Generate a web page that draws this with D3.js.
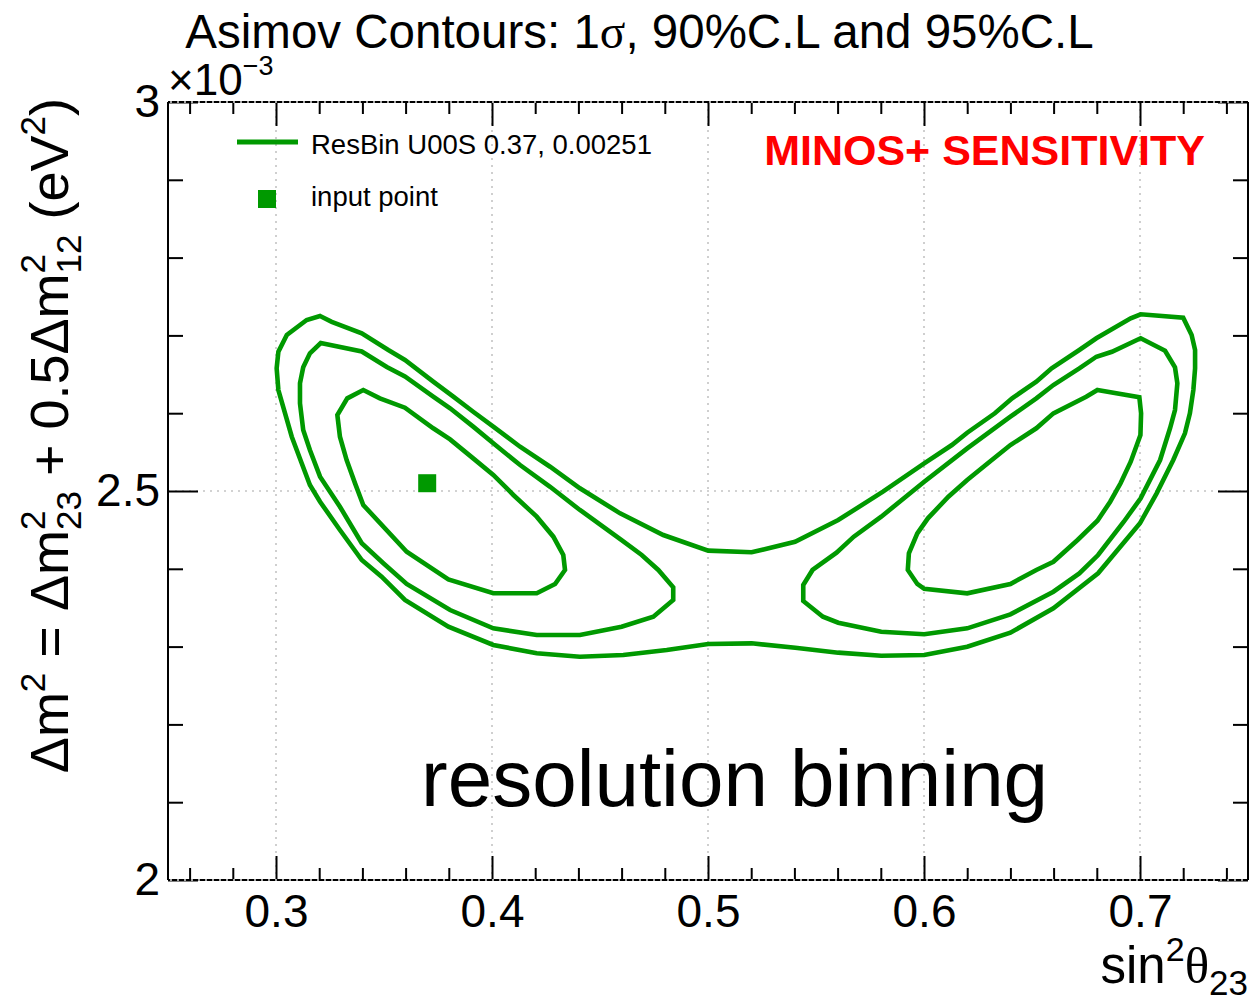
<!DOCTYPE html>
<html><head><meta charset="utf-8">
<script src="https://cdn.jsdelivr.net/npm/d3@7"></script>
<style>
body{margin:0;background:#fff}
svg{display:block}
text{font-family:"Liberation Sans",Arial,Helvetica,sans-serif;fill:#000}
</style>
</head><body>
<svg id="c" width="1253" height="1003"></svg>
<script>
// ---- data (x: sin^2 theta23, y: Delta m^2 in units of 1e-3 eV^2) ----
const xMajorTicks = [0.3, 0.4, 0.5, 0.6, 0.7];
const xTickLabels = ["0.3", "0.4", "0.5", "0.6", "0.7"];
const xMinorTicks = [0.26, 0.28, 0.32, 0.34, 0.36, 0.38, 0.42, 0.44, 0.46, 0.48,
                     0.52, 0.54, 0.56, 0.58, 0.62, 0.64, 0.66, 0.68, 0.72, 0.74];
const yMajorTicks = [2, 2.5, 3];
const yTickLabels = ["2", "2.5", "3"];
const yMinorTicks = [2.1, 2.2, 2.3, 2.4, 2.6, 2.7, 2.8, 2.9];
const xDomain = [0.25, 0.75];
const yDomain = [2, 3];
const inputPoint = [0.37, 2.51];

const contour95 = [
 [0.3204,2.7249],[0.3258,2.7175],[0.3397,2.7027],[0.3520,2.6812],[0.3597,2.6684],[0.3728,2.6405],
 [0.3821,2.6212],[0.3913,2.6019],[0.4006,2.5827],[0.4130,2.5569],[0.4269,2.5312],[0.4407,2.5035],
 [0.4593,2.4713],[0.4793,2.4434],[0.5001,2.4233],[0.5202,2.4212],[0.5403,2.4348],[0.5603,2.4627],
 [0.5810,2.4991],[0.6001,2.5355],[0.6129,2.5591],[0.6200,2.5749],[0.6328,2.5999],[0.6408,2.6192],
 [0.6520,2.6405],[0.6591,2.6577],[0.6719,2.6812],[0.6798,2.6963],[0.6957,2.7220],[0.7003,2.7271],
 [0.7200,2.7227],[0.7239,2.7005],[0.7255,2.6812],[0.7255,2.6577],[0.7247,2.6298],[0.7231,2.5998],
 [0.7208,2.5741],[0.7154,2.5398],[0.7077,2.4970],[0.7000,2.4585],[0.6806,2.3942],[0.6599,2.3492],
 [0.6400,2.3179],[0.6200,2.2999],[0.6001,2.2892],[0.5802,2.2883],[0.5603,2.2922],[0.5404,2.2986],
 [0.5202,2.3042],[0.5001,2.3033],[0.4809,2.2956],[0.4608,2.2892],[0.4407,2.2870],[0.4207,2.2914],
 [0.4006,2.3021],[0.3798,2.3256],[0.3597,2.3599],[0.3489,2.3899],[0.3397,2.4113],[0.3296,2.4499],
 [0.3204,2.4862],[0.3157,2.5077],[0.3119,2.5356],[0.3073,2.5698],[0.3042,2.5998],[0.3011,2.6298],
 [0.3003,2.6577],[0.3011,2.6790],[0.3050,2.7005],[0.3142,2.7198]
];
const contour90Left = [
 [0.3207,2.6902],[0.3397,2.6794],[0.3513,2.6594],[0.3597,2.6473],[0.3728,2.6212],[0.3806,2.6063],
 [0.3913,2.5827],[0.4006,2.5613],[0.4130,2.5334],[0.4269,2.5054],[0.4407,2.4756],[0.4600,2.4370],
 [0.4693,2.4177],[0.4770,2.3985],[0.4839,2.3762],[0.4839,2.3599],[0.4747,2.3384],[0.4600,2.3256],
 [0.4407,2.3149],[0.4207,2.3149],[0.4006,2.3235],[0.3806,2.3470],[0.3605,2.3805],[0.3497,2.4071],
 [0.3397,2.4328],[0.3296,2.4798],[0.3204,2.5184],[0.3157,2.5527],[0.3126,2.5784],[0.3111,2.6127],
 [0.3111,2.6384],[0.3126,2.6590],[0.3157,2.6770]
];
const contour90Right = [
 [0.7003,2.6963],[0.7116,2.6803],[0.7162,2.6590],[0.7173,2.6384],[0.7162,2.6041],[0.7139,2.5806],
 [0.7093,2.5398],[0.7003,2.4906],[0.6925,2.4605],[0.6806,2.4177],[0.6719,2.3941],[0.6599,2.3705],
 [0.6400,2.3415],[0.6200,2.3235],[0.6001,2.3158],[0.5802,2.3191],[0.5603,2.3307],[0.5532,2.3384],
 [0.5441,2.3586],[0.5441,2.3792],[0.5484,2.3985],[0.5595,2.4207],[0.5675,2.4413],[0.5802,2.4670],
 [0.6001,2.5118],[0.6200,2.5548],[0.6400,2.5955],[0.6520,2.6191],[0.6599,2.6362],[0.6719,2.6577],
 [0.6798,2.6726],[0.6870,2.6790]
];
const contour1sLeft = [
 [0.3404,2.6298],[0.3481,2.6191],[0.3597,2.6071],[0.3728,2.5806],[0.3806,2.5663],[0.3913,2.5419],
 [0.4006,2.5206],[0.4099,2.4949],[0.4207,2.4670],[0.4284,2.4413],[0.4330,2.4177],[0.4338,2.3985],
 [0.4292,2.3805],[0.4207,2.3685],[0.4006,2.3685],[0.3798,2.3864],[0.3605,2.4219],[0.3404,2.4820],
 [0.3366,2.5098],[0.3327,2.5398],[0.3296,2.5698],[0.3284,2.5977],[0.3330,2.6191]
];
const contour1sRight = [
 [0.6803,2.6298],[0.6997,2.6204],[0.7005,2.5998],[0.7002,2.5720],[0.6957,2.5377],[0.6910,2.5099],
 [0.6862,2.4862],[0.6803,2.4618],[0.6711,2.4370],[0.6599,2.4091],[0.6520,2.3985],[0.6400,2.3805],
 [0.6200,2.3685],[0.6001,2.3743],[0.5969,2.3805],[0.5925,2.3985],[0.5930,2.4199],[0.5969,2.4456],
 [0.6018,2.4649],[0.6113,2.4927],[0.6200,2.5141],[0.6304,2.5377],[0.6400,2.5591],[0.6520,2.5806],
 [0.6599,2.5998],[0.6751,2.6212]
];
const contours = [contour95, contour90Left, contour90Right, contour1sLeft, contour1sRight];

// ---- layout ----
const W = 1253, H = 1003;
const L = 168, R = 1248, T = 102, B = 880;
const green = "#009900";
const svg = d3.select("#c");
svg.append("rect").attr("width", W).attr("height", H).attr("fill", "#fff");

const x = d3.scaleLinear().domain(xDomain).range([L, R]);
const y = d3.scaleLinear().domain(yDomain).range([B, T]);

// grid
const grid = svg.append("g").attr("stroke", "#c4c4c4").attr("stroke-width", 1.6).attr("stroke-dasharray", "2,5");
grid.selectAll(".gx").data(xMajorTicks).join("line")
  .attr("x1", d => x(d)).attr("x2", d => x(d)).attr("y1", T).attr("y2", B);
grid.selectAll(".gy").data(yMajorTicks.filter(v => v > yDomain[0] && v < yDomain[1])).join("line")
  .attr("x1", L).attr("x2", R).attr("y1", d => y(d)).attr("y2", d => y(d));

// contours
const line = d3.line().x(d => x(d[0])).y(d => y(d[1])).curve(d3.curveLinearClosed);
svg.append("g").selectAll("path").data(contours).join("path")
  .attr("d", line).attr("fill", "none").attr("stroke", green)
  .attr("stroke-width", 4.6).attr("stroke-linejoin", "miter");

// input point
svg.append("rect").attr("x", x(inputPoint[0]) - 9).attr("y", y(inputPoint[1]) - 9)
  .attr("width", 18).attr("height", 18).attr("fill", green);

// axes
function styleAxis(g) {
  g.select(".domain").remove();
  g.selectAll(".tick line").attr("stroke", "#000").attr("stroke-width", 2);
  g.selectAll(".tick text").style("font-size", "46px").attr("fill", "#000");
}
const fmtX = d => xTickLabels[xMajorTicks.indexOf(d)];
const fmtY = d => yTickLabels[yMajorTicks.indexOf(d)];

svg.append("g").attr("transform", `translate(0,${B})`)
  .call(d3.axisBottom(x).tickValues(xMajorTicks).tickFormat(fmtX).tickSize(-24).tickPadding(14)).call(styleAxis);
svg.append("g").attr("transform", `translate(0,${B})`)
  .call(d3.axisBottom(x).tickValues(xMinorTicks).tickFormat("").tickSize(-12)).call(styleAxis);
svg.append("g").attr("transform", `translate(0,${T})`)
  .call(d3.axisTop(x).tickValues(xMajorTicks).tickFormat("").tickSize(-24)).call(styleAxis);
svg.append("g").attr("transform", `translate(0,${T})`)
  .call(d3.axisTop(x).tickValues(xMinorTicks).tickFormat("").tickSize(-12)).call(styleAxis);

svg.append("g").attr("transform", `translate(${L},0)`)
  .call(d3.axisLeft(y).tickValues(yMajorTicks).tickFormat(fmtY).tickSize(-30).tickPadding(8)).call(styleAxis);
svg.append("g").attr("transform", `translate(${L},0)`)
  .call(d3.axisLeft(y).tickValues(yMinorTicks).tickFormat("").tickSize(-15)).call(styleAxis);
svg.append("g").attr("transform", `translate(${R},0)`)
  .call(d3.axisRight(y).tickValues(yMajorTicks).tickFormat("").tickSize(-30)).call(styleAxis);
svg.append("g").attr("transform", `translate(${R},0)`)
  .call(d3.axisRight(y).tickValues(yMinorTicks).tickFormat("").tickSize(-15)).call(styleAxis);

// frame
const frame = svg.append("g").attr("stroke", "#000").attr("stroke-width", 2);
frame.append("line").attr("x1", L).attr("x2", L).attr("y1", T).attr("y2", B);
frame.append("line").attr("x1", R).attr("x2", R).attr("y1", T).attr("y2", B);
frame.append("line").attr("x1", L).attr("x2", R).attr("y1", T).attr("y2", T);
frame.append("line").attr("x1", L).attr("x2", R).attr("y1", B).attr("y2", B);
const fg = svg.append("g").attr("stroke", "#ddd").attr("stroke-width", 1.4).attr("stroke-dasharray", "2,5");
fg.append("line").attr("x1", L + 2).attr("x2", R - 2).attr("y1", T).attr("y2", T);
fg.append("line").attr("x1", L + 2).attr("x2", R - 2).attr("y1", B).attr("y2", B);

// title
const title = svg.append("text").attr("x", 639.5).attr("y", 48).attr("text-anchor", "middle").style("font-size", "47.5px");
title.append("tspan").text("Asimov Contours: 1");
title.append("tspan").style("font-family", "'Liberation Serif','DejaVu Serif',serif").text("σ");
title.append("tspan").text(", 90%C.L and 95%C.L");

// exponent
const ex = svg.append("text").attr("x", 168).attr("y", 95).style("font-size", "44px");
ex.append("tspan").text("×10");
ex.append("tspan").attr("dy", -20).style("font-size", "27px").text("−3");

// x title
const xt = svg.append("text").attr("x", 1248).attr("y", 983).attr("text-anchor", "end").style("font-size", "51px");
xt.append("tspan").text("sin");
xt.append("tspan").attr("dy", -22).style("font-size", "34px").text("2");
xt.append("tspan").attr("dy", 22).style("font-family", "'Liberation Serif','DejaVu Serif',serif").text("θ");
xt.append("tspan").attr("dy", 12).style("font-size", "35px").text("23");

// y title
const ytt = svg.append("text").attr("transform", "translate(68,98) rotate(-90)")
  .attr("text-anchor", "end").style("font-size", "54px");
const supFs = 35, supW = 0.556 * supFs;
ytt.append("tspan").text("Δm");
ytt.append("tspan").attr("dy", -23).style("font-size", supFs + "px").text("2");
ytt.append("tspan").attr("dy", 23).text(" = Δm");
ytt.append("tspan").attr("dy", -23).style("font-size", supFs + "px").text("2");
ytt.append("tspan").attr("dx", -supW).attr("dy", 36).style("font-size", supFs + "px").text("23");
ytt.append("tspan").attr("dy", -13).text(" + 0.5Δm");
ytt.append("tspan").attr("dy", -23).style("font-size", supFs + "px").text("2");
ytt.append("tspan").attr("dx", -supW).attr("dy", 36).style("font-size", supFs + "px").text("12");
ytt.append("tspan").attr("dy", -13).text(" (eV");
ytt.append("tspan").attr("dy", -23).style("font-size", supFs + "px").text("2");
ytt.append("tspan").attr("dy", 23).text(")");

// legend
svg.append("line").attr("x1", 237).attr("x2", 298).attr("y1", 142).attr("y2", 142)
  .attr("stroke", green).attr("stroke-width", 5);
svg.append("text").attr("x", 311).attr("y", 154).style("font-size", "27.5px").text("ResBin U00S 0.37, 0.00251");
svg.append("rect").attr("x", 258).attr("y", 190).attr("width", 18).attr("height", 18).attr("fill", green);
svg.append("text").attr("x", 311).attr("y", 206).style("font-size", "27.5px").text("input point");

// annotations
svg.append("text").attr("x", 1205).attr("y", 165).attr("text-anchor", "end")
  .style("font-size", "43px").style("font-weight", "bold").style("fill", "#ff0000")
  .text("MINOS+ SENSITIVITY");
svg.append("text").attr("x", 421).attr("y", 806).style("font-size", "80px").text("resolution binning");
</script>
</body></html>
